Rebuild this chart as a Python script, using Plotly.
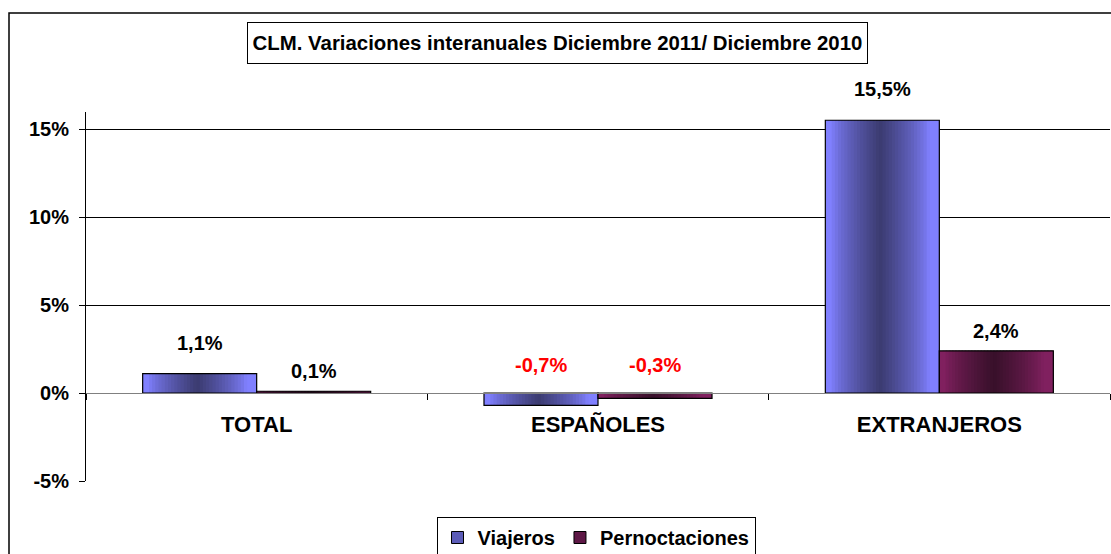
import plotly.graph_objects as go

# ---- data ----
categories = ["TOTAL", "ESPAÑOLES", "EXTRANJEROS"]
viajeros = [1.1, -0.7, 15.5]
pernoctaciones = [0.1, -0.3, 2.4]
series_names = ["Viajeros", "Pernoctaciones"]
y_tickvals = [-5, 0, 5, 10, 15]
y_ticktext = ["-5%", "0%", "5%", "10%", "15%"]
title_text = "CLM. Variaciones interanuales Diciembre 2011/ Diciembre 2010"

# ---- layout constants (pixels, in reference-image coordinates) ----
W, H = 1111, 554
PL, PR, PT, PB = 86, 1110, 112, 481  # plot area in reference pixels
ML, MT = PL, PT
MR = W - PR
MB = H - PB
PW, PH = PR - PL, PB - PT
Y_MIN, Y_MAX = -5, 15.97
FONT = "Arial, Liberation Sans, sans-serif"

def px_x(px):
    return (px - PL) / PW

def px_y(py):
    return (PB - py) / PH

def hex2rgb(h):
    h = h.lstrip("#")
    return [int(h[i:i + 2], 16) for i in (0, 2, 4)]

def lerp(c1, c2, t):
    a, b = hex2rgb(c1), hex2rgb(c2)
    return "rgb(%d,%d,%d)" % tuple(round(a[i] + (b[i] - a[i]) * t) for i in range(3))

styles = [
    dict(edge="#8080FF", center="#3B3B70", legend="#5C5CB8", label_shift=31),
    dict(edge="#80205F", center="#38102A", legend="#5E1846", label_shift=20),
]

x_idx = list(range(len(categories)))
bw = 0.334
N = 36

fig = go.Figure()
for s, (name, vals) in enumerate(zip(series_names, [viajeros, pernoctaciones])):
    base = -bw if s == 0 else 0.0
    st = styles[s]
    step = bw / N
    for k in range(N):
        t = (k + 0.5) / N
        d = max(0.0, 1 - abs(t - 0.48) / 0.43)
        d = d ** 0.75
        col = lerp(st["edge"], st["center"], d)
        w = step * 2.5 if k < N - 1 else step
        w = min(w, bw - k * step)
        fig.add_trace(go.Bar(
            x=x_idx, y=vals, offset=base + k * step, width=w,
            marker=dict(color=col, line=dict(width=0)),
            showlegend=False, hoverinfo="skip"))
    # outline
    fig.add_trace(go.Bar(
        x=x_idx, y=vals, offset=base, width=bw, name=name,
        marker=dict(color="rgba(0,0,0,0)", line=dict(color="#000000", width=1.2)),
        showlegend=False))
    # legend entry
    fig.add_trace(go.Bar(
        x=[None], y=[None], name=name,
        marker=dict(color=st["legend"], line=dict(color="#000000", width=1)),
        showlegend=True))

# data labels
annotations = []
for s, vals in enumerate([viajeros, pernoctaciones]):
    for i, v in enumerate(vals):
        xc = i + (-bw / 2 if s == 0 else bw / 2)
        annotations.append(dict(
            x=xc, y=max(v, 0), xref="x", yref="y",
            text=("%.1f%%" % v).replace(".", ","),
            showarrow=False, yshift=28 if v < 0 else styles[s]["label_shift"],
            font=dict(family=FONT, size=20, weight="bold",
                      color="#FF0000" if v < 0 else "#000000")))

# title box
annotations.append(dict(
    x=px_x(557.5), y=px_y(43.5), xref="paper", yref="paper",
    text=title_text, showarrow=False, xanchor="center", yanchor="middle",
    width=613, height=34, borderpad=3, borderwidth=1, bordercolor="#000000",
    bgcolor="#FFFFFF",
    font=dict(family=FONT, size=20.4, weight="bold", color="#000000")))

fig.update_layout(annotations=annotations)

zero_pos = (0 - Y_MIN) / (Y_MAX - Y_MIN)

fig.update_layout(
    width=W, height=H, autosize=False,
    margin=dict(l=ML, r=MR, t=MT, b=MB, pad=0, autoexpand=False),
    paper_bgcolor="#FFFFFF", plot_bgcolor="#FFFFFF",
    barmode="overlay",
    font=dict(family=FONT, size=20, color="#000000"),
    xaxis=dict(
        range=[-0.5, 2.5], tickvals=x_idx, ticktext=categories, automargin=False,
        showgrid=False, zeroline=False, showline=True, linecolor="#808080", linewidth=1,
        anchor="free", position=zero_pos, ticks="", ticklabelstandoff=12,
        tickfont=dict(family=FONT, size=22, weight="bold", color="#000000"),
        minor=dict(tickvals=[-0.5, 0.5, 1.5, 2.5], ticks="outside", ticklen=6,
                   tickcolor="#000000", showgrid=False),
        fixedrange=True),
    yaxis=dict(
        range=[Y_MIN, Y_MAX], tickvals=y_tickvals, ticktext=y_ticktext, automargin=False,
        showgrid=True, gridcolor="#000000", gridwidth=1,
        zeroline=True, zerolinecolor="#808080", zerolinewidth=1,
        showline=True, linecolor="#000000", linewidth=1,
        ticks="outside", ticklen=6, tickcolor="#000000", ticklabelstandoff=6,
        tickfont=dict(family=FONT, size=20, weight="bold", color="#000000"),
        fixedrange=True),
    legend=dict(
        orientation="h", x=px_x(596), xanchor="center", y=px_y(517), yanchor="top",
        bordercolor="#000000", borderwidth=1, bgcolor="#FFFFFF",
        font=dict(family=FONT, size=20, weight="bold", color="#000000"),
        itemwidth=30, traceorder="normal"),
    shapes=[dict(type="rect", xref="paper", yref="paper",
                 x0=px_x(9), x1=px_x(1125), y0=px_y(570), y1=px_y(13),
                 line=dict(color="#000000", width=1.5), fillcolor="rgba(0,0,0,0)",
                 layer="below")],
    showlegend=True,
)

fig.write_html("out.html",
               config={"displayModeBar": False},
               post_script="document.body.style.margin='0';document.body.style.overflow='hidden';")
